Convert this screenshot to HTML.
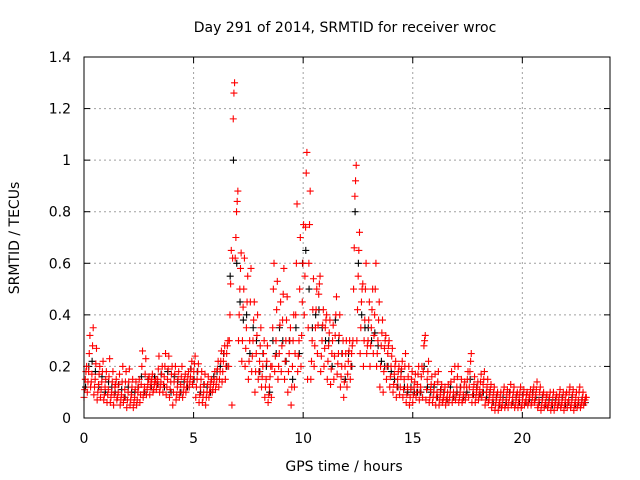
<!DOCTYPE html>
<html><head><meta charset="utf-8"><style>
body{margin:0;background:#fff}
svg{display:block;font-family:"DejaVu Sans","Liberation Sans",sans-serif}
</style></head><body>
<svg id="chart" width="640" height="480" viewBox="0 0 640 480">
<text x="345" y="32" font-size="14" text-anchor="middle">Day 291 of 2014, SRMTID for receiver wroc</text>
<text x="344" y="471" font-size="14" text-anchor="middle">GPS time / hours</text>
<text transform="translate(19,238) rotate(-90)" font-size="14" text-anchor="middle">SRMTID / TECUs</text>
<g id="grid"></g>
<g id="ticks"></g>
<g id="black"></g>
<g id="red"></g>
<rect x="84" y="57" width="526" height="361" fill="none" stroke="#000" stroke-width="1"/>
</svg>
<script>
const xTicks=[0,5,10,15,20];
const yTicks=[0,0.2,0.4,0.6,0.8,1,1.2,1.4];
const yTickLabels=["0","0.2","0.4","0.6","0.8","1","1.2","1.4"];
const binStep=0.15;
const redHi=[.2,.32,.35,.27,.2,.22,.18,
.23,.18,.15,.17,.2,.18,.19,.15,.14,.15,
.26,.23,.16,.17,.15,.24,.2,.25,.24,.2,.2,.18,.2,
.17,.18,.22,.24,.21,.18,.17,.16,.15,.18,.22,.26,
.28,.3,.65,1.3,.88,.64,.62,.55,.58,.45,
.4,.35,.3,.28,.2,.6,.53,.45,.58,.47,
.35,.4,.83,.7,.75,1.03,.88,.54,.5,.55,
.42,.4,.38,.36,.47,.4,.3,.3,.3,.3,
.98,.72,.52,.6,.45,.5,.6,.45,.38,.32,
.3,.27,.22,.2,.22,.25,.2,.18,.17,.2,
.2,.32,.22,.16,.17,.18,.13,.12,.13,.18,
.2,.2,.15,.14,.18,.25,.16,.14,.17,.18,
.15,.13,.12,.1,.1,.12,.11,.13,.12,.1,
.12,.11,.1,.11,.12,.14,.12,.1,.09,.1,
.1,.09,.11,.1,.1,.12,.11,.1,.12,.1,.08];
const redQ3=[.18,.25,.28,.21,.17,.18,.15,
.16,.14,.13,.13,.14,.14,.14,.12,.11,.12,
.2,.17,.15,.15,.14,.19,.17,.2,.19,.17,.17,.15,.16,
.15,.16,.19,.21,.18,.15,.13,.13,.14,.15,.19,.22,
.25,.28,.52,1.26,.84,.58,.5,.45,.45,.38,
.32,.28,.25,.22,.16,.5,.42,.36,.48,.38,
.3,.3,.6,.5,.6,.95,.75,.42,.42,.52,
.36,.38,.33,.3,.4,.32,.25,.25,.26,.28,
.92,.65,.5,.5,.38,.42,.5,.38,.33,.3,
.28,.24,.2,.18,.19,.2,.16,.15,.14,.17,
.16,.3,.18,.13,.13,.14,.11,.1,.1,.14,
.15,.16,.12,.12,.15,.22,.13,.12,.14,.15,
.12,.11,.1,.09,.08,.1,.09,.1,.1,.09,
.1,.09,.09,.09,.1,.11,.1,.09,.08,.08,
.08,.08,.09,.08,.09,.1,.09,.08,.1,.08,.08];
const redMid=[.15,.18,.17,.15,.13,.14,.12,
.11,.1,.12,.1,.09,.11,.1,.09,.08,.1,
.13,.12,.13,.14,.13,.15,.14,.16,.15,.14,.14,.12,.13,
.12,.14,.16,.18,.15,.12,.1,.1,.12,.13,.15,.18,
.22,.25,.4,1.16,.8,.5,.43,.35,.3,.3,
.25,.22,.2,.15,.12,.35,.3,.25,.38,.3,
.25,.2,.4,.3,.45,.74,.6,.3,.35,.48,
.3,.35,.28,.25,.32,.25,.2,.2,.22,.25,
.86,.55,.45,.38,.3,.35,.4,.3,.28,.27,
.25,.2,.17,.15,.16,.15,.12,.11,.12,.13,
.12,.28,.15,.11,.1,.1,.09,.08,.08,.1,
.1,.12,.1,.09,.12,.18,.11,.1,.11,.13,
.1,.09,.08,.07,.06,.07,.07,.08,.08,.07,
.08,.07,.07,.08,.08,.09,.07,.07,.06,.06,
.06,.06,.07,.06,.07,.07,.07,.06,.07,.06,.07];
const redQ1=[.11,.14,.14,.12,.1,.11,.09,
.09,.08,.09,.08,.07,.08,.07,.07,.06,.07,
.09,.1,.11,.12,.11,.13,.12,.13,.12,.11,.1,.09,.1,
.1,.12,.14,.15,.12,.09,.08,.08,.1,.11,.13,.15,
.18,.2,.3,.62,.7,.4,.3,.27,.22,.24,
.18,.18,.16,.12,.09,.2,.24,.2,.28,.22,
.18,.12,.25,.24,.32,.55,.35,.22,.28,.36,
.24,.27,.22,.19,.24,.21,.16,.14,.17,.2,
.66,.42,.35,.3,.28,.28,.32,.25,.2,.18,
.2,.16,.13,.12,.12,.11,.09,.08,.09,.1,
.1,.18,.11,.08,.08,.08,.07,.07,.07,.08,
.08,.09,.08,.07,.09,.12,.09,.08,.09,.1,
.07,.07,.06,.05,.05,.05,.05,.06,.06,.05,
.06,.05,.06,.06,.06,.07,.05,.05,.05,.05,
.05,.05,.05,.05,.05,.06,.05,.05,.05,.05,.06];
const redLo=[.08,.1,.12,.09,.07,.08,.07,
.06,.06,.05,.07,.05,.06,.04,.05,.04,.05,
.06,.08,.09,.09,.1,.11,.1,.1,.09,.08,.05,.07,.08,
.08,.1,.12,.13,.08,.06,.06,.05,.08,.1,.11,.12,
.14,.15,.2,.05,.62,.3,.22,.2,.15,.18,
.1,.15,.12,.08,.06,.08,.18,.15,.18,.15,
.1,.05,.12,.18,.2,.4,.15,.15,.2,.25,
.18,.2,.15,.13,.15,.17,.12,.08,.12,.15,
.5,.3,.25,.2,.25,.2,.25,.2,.12,.1,
.15,.12,.1,.08,.09,.08,.06,.05,.06,.08,
.07,.08,.07,.06,.06,.05,.05,.06,.05,.06,
.06,.07,.06,.06,.07,.08,.06,.06,.07,.08,
.05,.06,.04,.03,.03,.04,.04,.04,.05,.04,
.04,.04,.05,.05,.05,.06,.04,.03,.04,.04,
.03,.03,.04,.04,.03,.04,.04,.03,.04,.04,.05];
const blackVals=[.12,.2,.22,.18,.12,.16,.1,
.14,.12,.1,.13,.11,.08,.12,.1,.1,.12,
.16,.1,.15,.12,.16,.13,.17,.12,.18,.1,.16,.14,.1,
.14,.12,.19,.15,.18,.1,.13,.12,.1,.16,.18,.2,
.25,.2,.55,1.0,.6,.45,.38,.4,.25,.35,
.3,.18,.25,.2,.1,.3,.25,.35,.3,.22,
.3,.15,.35,.25,.6,.65,.5,.35,.4,.42,
.35,.3,.3,.2,.38,.3,.25,.15,.25,.2,
.8,.6,.4,.35,.35,.3,.33,.28,.22,.2,
.2,.18,.15,.12,.18,.12,.1,.12,.1,.1,
.1,.2,.12,.1,.12,.08,.11,.1,.07,.12,
.08,.1,.12,.08,.1,.15,.09,.12,.09,.1,
.08,.1,.06,.08,.05,.08,.06,.1,.06,.08,
.06,.09,.06,.07,.1,.08,.06,.08,.05,.07,
.05,.07,.06,.08,.05,.06,.08,.05,.06,.07,.06];
const X0=84,X1=610,Y0=418,Y1=57,XMAX=24,YMAX=1.4;
const sx=v=>X0+v/XMAX*(X1-X0);
const sy=v=>Y0-v/YMAX*(Y0-Y1);
const NS="http://www.w3.org/2000/svg";
function mk(tag,attrs,parent){const e=document.createElementNS(NS,tag);for(const k in attrs)e.setAttribute(k,attrs[k]);parent.appendChild(e);return e;}
const grid=document.getElementById('grid'),ticks=document.getElementById('ticks');
xTicks.forEach(t=>{const x=sx(t);
 if(t>0&&t<XMAX){const l=mk('line',{x1:x,x2:x,y1:Y1,y2:Y0,stroke:'#a0a0a0','stroke-dasharray':'2,3'},grid);
 
 }
 mk('line',{x1:x,x2:x,y1:Y0,y2:Y0-6,stroke:'#000'},ticks);
 mk('line',{x1:x,x2:x,y1:Y1,y2:Y1+6,stroke:'#000'},ticks);
 const tx=mk('text',{x:x,y:Y0+25,'font-size':14,'text-anchor':'middle'},ticks);tx.textContent=t;
 
 
});
yTicks.forEach((t,i)=>{const y=sy(t);
 if(t>0&&t<YMAX){const l=mk('line',{x1:X0,x2:X1,y1:y,y2:y,stroke:'#a0a0a0','stroke-dasharray':'2,3'},grid);
 
 }
 mk('line',{x1:X0,x2:X0+6,y1:y,y2:y,stroke:'#000'},ticks);
 mk('line',{x1:X1,x2:X1-6,y1:y,y2:y,stroke:'#000'},ticks);
 const tx=mk('text',{x:X0-13,y:y+5,'font-size':14,'text-anchor':'end'},ticks);tx.textContent=yTickLabels[i];
 
 
});
function plus(g,t,v,color){const x=sx(t),y=sy(v);
 const p=mk('path',{d:`M${x-3.5},${y}H${x+3.5}M${x},${y-3.5}V${y+3.5}`,stroke:color,'stroke-width':1.1,fill:'none'},g);
 
 }
const bg=document.getElementById('black'),rg=document.getElementById('red');
blackVals.forEach((v,i)=>plus(bg,i*binStep+0.07,v,'#000'));
[redLo,redQ1,redMid,redQ3,redHi].forEach((arr,k)=>arr.forEach((v,i)=>plus(rg,i*binStep+k*0.03,v,'#f00')));
</script>
</body></html>
